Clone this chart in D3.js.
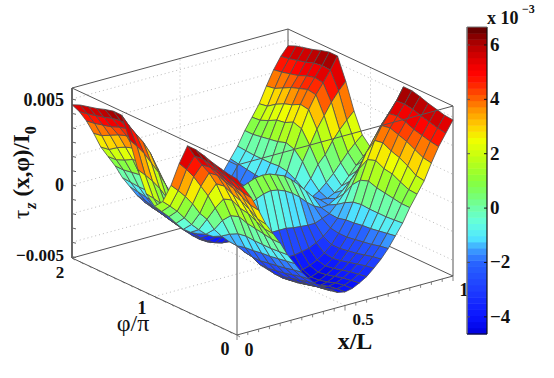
<!DOCTYPE html>
<html><head><meta charset="utf-8">
<script src="https://cdn.jsdelivr.net/npm/d3@7/dist/d3.min.js"></script>
<style>html,body{margin:0;padding:0;background:#fff}svg{display:block}text{font-family:"Liberation Serif",serif;font-weight:bold;fill:#111}</style>
</head><body><svg id="c" width="554" height="378"></svg>
<script>
// tau_z in units of 1e-3; one row per phi (phi/pi = 0, .1, ... 2), one column per x/L (0, 1/30, ... 1)
const tauRows=[
[5.8,5.0,4.2,3.2,2.1,1.3,.5,-.45,-1.2,-1.95,-2.55,-3.05,-3.5,-3.8,-4.05,-4.15,-4.05,-3.8,-3.5,-3.05,-2.55,-1.95,-1.2,-.45,.5,1.3,2.1,3.2,4.2,5.0,5.8],
[5.85,5.1,4.3,3.3,2.2,1.35,.5,-.5,-1.3,-2.05,-2.65,-3.15,-3.6,-3.9,-4.1,-4.2,-4.1,-3.9,-3.6,-3.15,-2.65,-2.05,-1.3,-.5,.5,1.35,2.2,3.3,4.3,5.1,5.85],
[6.0,5.25,4.45,3.6,2.6,1.6,.6,-.55,-1.4,-2.2,-2.8,-3.3,-3.7,-4.0,-4.2,-4.3,-4.2,-4.0,-3.7,-3.3,-2.8,-2.2,-1.4,-.55,.6,1.6,2.6,3.6,4.45,5.25,6.0],
[6.15,5.4,4.6,3.9,2.9,1.9,.7,-.55,-1.5,-2.3,-2.95,-3.45,-3.85,-4.15,-4.4,-4.5,-4.4,-4.15,-3.85,-3.45,-2.95,-2.3,-1.5,-.55,.7,1.9,2.9,3.9,4.6,5.4,6.15],
[6.35,5.6,4.85,4.1,3.1,2.0,.8,-.55,-1.55,-2.4,-3.05,-3.6,-4.0,-4.3,-4.55,-4.65,-4.55,-4.3,-4.0,-3.6,-3.05,-2.4,-1.55,-.55,.8,2.0,3.1,4.1,4.85,5.6,6.35],
[6.5,5.7,5.0,4.3,3.4,2.3,1.0,-.5,-1.65,-2.5,-3.15,-3.7,-4.1,-4.4,-4.6,-4.7,-4.6,-4.4,-4.1,-3.7,-3.15,-2.5,-1.65,-.5,1.0,2.3,3.4,4.3,5.0,5.7,6.5],
[6.5,5.65,4.9,4.2,3.3,2.1,.8,-.6,-1.7,-2.5,-3.15,-3.6,-3.95,-4.2,-4.35,-4.4,-4.35,-4.2,-3.95,-3.6,-3.15,-2.5,-1.7,-.6,.8,2.1,3.3,4.2,4.9,5.65,6.5],
[5.0,4.45,3.8,3.0,2.2,1.2,.2,-.9,-1.85,-2.4,-2.85,-3.15,-3.4,-3.5,-3.6,-3.6,-3.6,-3.5,-3.4,-3.15,-2.85,-2.4,-1.85,-.9,.2,1.2,2.2,3.0,3.8,4.45,5.0],
[3.2,2.7,2.15,1.5,.7,.15,-.7,-1.3,-1.8,-2.0,-2.2,-2.2,-2.15,-2.1,-2.0,-2.0,-2.0,-2.1,-2.15,-2.2,-2.2,-2.0,-1.8,-1.3,-.7,.15,.7,1.5,2.15,2.7,3.2],
[1.8,1.35,.85,.25,-.35,-.85,-1.3,-1.6,-1.65,-1.4,-1.0,-.5,-.1,.2,.4,.5,.4,.2,-.1,-.5,-1.0,-1.4,-1.65,-1.6,-1.3,-.85,-.35,.25,.85,1.35,1.8],
[1.2,.7,.2,-.4,-.95,-1.3,-1.55,-1.5,-1.15,-.6,-.05,.45,.85,1.05,1.25,1.3,1.25,1.05,.85,.45,-.05,-.6,-1.15,-1.5,-1.55,-1.3,-.95,-.4,.2,.7,1.2],
[1.8,1.35,.85,.25,-.35,-.85,-1.3,-1.6,-1.65,-1.4,-1.0,-.5,-.1,.2,.4,.5,.4,.2,-.1,-.5,-1.0,-1.4,-1.65,-1.6,-1.3,-.85,-.35,.25,.85,1.35,1.8],
[3.2,2.7,2.15,1.5,.7,.15,-.7,-1.3,-1.8,-2.0,-2.2,-2.2,-2.15,-2.1,-2.0,-2.0,-2.0,-2.1,-2.15,-2.2,-2.2,-2.0,-1.8,-1.3,-.7,.15,.7,1.5,2.15,2.7,3.2],
[5.0,4.45,3.8,3.0,2.2,1.2,.2,-.9,-1.85,-2.4,-2.85,-3.15,-3.4,-3.5,-3.6,-3.6,-3.6,-3.5,-3.4,-3.15,-2.85,-2.4,-1.85,-.9,.2,1.2,2.2,3.0,3.8,4.45,5.0],
[6.5,5.65,4.9,4.2,3.3,2.1,.8,-.6,-1.7,-2.5,-3.15,-3.6,-3.95,-4.2,-4.35,-4.4,-4.35,-4.2,-3.95,-3.6,-3.15,-2.5,-1.7,-.6,.8,2.1,3.3,4.2,4.9,5.65,6.5],
[6.5,5.7,5.0,4.3,3.4,2.3,1.0,-.5,-1.65,-2.5,-3.15,-3.7,-4.1,-4.4,-4.6,-4.7,-4.6,-4.4,-4.1,-3.7,-3.15,-2.5,-1.65,-.5,1.0,2.3,3.4,4.3,5.0,5.7,6.5],
[6.35,5.6,4.85,4.1,3.1,2.0,.8,-.55,-1.55,-2.4,-3.05,-3.6,-4.0,-4.3,-4.55,-4.65,-4.55,-4.3,-4.0,-3.6,-3.05,-2.4,-1.55,-.55,.8,2.0,3.1,4.1,4.85,5.6,6.35],
[6.15,5.4,4.6,3.9,2.9,1.9,.7,-.55,-1.5,-2.3,-2.95,-3.45,-3.85,-4.15,-4.4,-4.5,-4.4,-4.15,-3.85,-3.45,-2.95,-2.3,-1.5,-.55,.7,1.9,2.9,3.9,4.6,5.4,6.15],
[6.0,5.25,4.45,3.6,2.6,1.6,.6,-.55,-1.4,-2.2,-2.8,-3.3,-3.7,-4.0,-4.2,-4.3,-4.2,-4.0,-3.7,-3.3,-2.8,-2.2,-1.4,-.55,.6,1.6,2.6,3.6,4.45,5.25,6.0],
[5.85,5.1,4.3,3.3,2.2,1.35,.5,-.5,-1.3,-2.05,-2.65,-3.15,-3.6,-3.9,-4.1,-4.2,-4.1,-3.9,-3.6,-3.15,-2.65,-2.05,-1.3,-.5,.5,1.35,2.2,3.3,4.3,5.1,5.85],
[5.6,5.0,4.2,3.2,2.1,1.3,.5,-.45,-1.2,-1.95,-2.55,-3.05,-3.5,-3.8,-4.05,-4.15,-4.05,-3.8,-3.5,-3.05,-2.55,-1.95,-1.2,-.45,.5,1.3,2.1,3.2,4.2,5.0,5.6]];
const xStep=1/30, phiStep=.1;
// palette stops (value in 1e-3, colour)
const palVals=[-4.63,-4,-3,-2,-1.5,-1.1,-.5,0,.5,1,1.8,2.5,3,3.6,4,4.6,5,5.5,6,6.66];
const palCols=["#0000dc","#0a14ff","#1e3cff","#2864ff","#3ca0ff","#50e6ff","#64ffdc","#6effaa","#78ff6e","#87ff3c","#beff14","#f0ff00","#ffd200","#ff9600","#ff6400","#ff1e00","#ff0000","#dc0000","#b40000","#5a0000"];
const zTicks=[-4,-2,0,2,4,6];
const cbTicks=[-4,-2,0,2,4,6];
const zMin=-5.1,zMax=6.77,cMin=-4.63,cMax=6.66,bands=50;

const svg=d3.select("#c");
const sx=d3.scaleLinear([0,1],[0,216]), sxy=d3.scaleLinear([0,1],[0,-59]);
const spx=d3.scaleLinear([0,2],[0,-165]), spy=d3.scaleLinear([0,2],[0,-77]);
const sz=d3.scaleLinear([zMin,zMax],[0,-170]);
const P=(x,p,z)=>[237+sx(x)+spx(p),335+sxy(x)+spy(p)+sz(z)];
const ramp=d3.scaleLinear(palVals,palCols).interpolate(d3.interpolateRgb);
const bandOf=v=>{const t=Math.min(bands-1,Math.max(0,Math.floor((v-cMin)/(cMax-cMin)*bands)));return ramp(cMin+(t+.5)*(cMax-cMin)/bands);};
const line=d3.line();
const boxCol="#555";
const seg=(a,b,w=1,col=boxCol,dash=null)=>svg.append("path").attr("d",line([a,b])).attr("fill","none").attr("stroke",col).attr("stroke-width",w).attr("stroke-dasharray",dash);

// back walls & floor grid
const gc="#bbb",gd="1 3";
zTicks.forEach(z=>{seg(P(0,2,z),P(1,2,z),1,gc,gd);seg(P(1,2,z),P(1,0,z),1,gc,gd);});
seg(P(.5,2,zMin),P(.5,2,zMax),1,gc,gd);seg(P(1,1,zMin),P(1,1,zMax),1,gc,gd);
seg(P(.5,0,zMin),P(.5,2,zMin),1,gc,gd);seg(P(0,1,zMin),P(1,1,zMin),1,gc,gd);
// back box
seg(P(0,2,zMin),P(1,2,zMin));seg(P(1,2,zMin),P(1,0,zMin));seg(P(1,2,zMin),P(1,2,zMax));
seg(P(0,2,zMax),P(1,2,zMax));seg(P(1,2,zMax),P(1,0,zMax));
seg(P(0,0,zMin),P(1,0,zMin));seg(P(0,0,zMin),P(0,2,zMin));seg(P(1,0,zMin),P(1,0,zMax));
seg(P(0,0,zMin),P(0,0,zMin+(335-243)/14.33));
seg(P(0,2,zMin),P(0,2,zMax),2,"#666");

// surface: painter order far to near
const quads=[];
for(let j=tauRows.length-2;j>=0;j--)for(let i=tauRows[0].length-2;i>=0;i--){
 const c=[[i,j],[i+1,j],[i+1,j+1],[i,j+1]];
 quads.push({pts:c.map(([a,b])=>P(a*xStep,b*phiStep,tauRows[b][a])),v:d3.mean(c,([a,b])=>tauRows[b][a])});
}
svg.append("g").selectAll("path").data(quads).join("path")
 .attr("d",d=>line(d.pts)+"Z").attr("fill",d=>bandOf(d.v)).attr("stroke","#4c4c4c").attr("stroke-width",.8).attr("stroke-linejoin","round");
// front upper edges over surface
seg(P(0,2,zMax),P(0,0,zMax));seg(P(0,0,zMax),P(1,0,zMax));seg(P(0,0,zMax),P(0,0,zMax-(14/14.33)));

// axis ticks
d3.range(-5,7).forEach(z=>{const a=P(0,2,z);seg(a,[a[0]+4,a[1]+1],1,"#666");});
d3.range(0,1.0001,.05).forEach(x=>{const a=P(x,0,zMin);seg(a,[a[0],a[1]+(Math.round(x*20)%10==0?5:3)],.8,"#666");});
d3.range(0,2.0001,.1).forEach(p=>{const a=P(0,p,zMin);seg(a,[a[0]+3,a[1]+2],.8,"#666");});

const T=(x,y,s,size,anchor="middle")=>svg.append("text").attr("x",x).attr("y",y).attr("font-size",size).attr("text-anchor",anchor).text(s);
T(64,106,"0.005",18,"end");T(64,191,"0",18,"end");T(64,261,"−0.005",17,"end");
T(60,278,"2",17);T(225,355,"0",18);T(249,356,"0",18);T(142,314,"1",18);
T(133,331,"φ/π",24).style("font-weight","normal");
T(363,325,"0.5",17);T(355,349,"x/L",24);T(464,296,"1",18);

// y title
const yt=svg.append("text").attr("transform","translate(29,219) rotate(-90)").attr("font-size",23);
yt.append("tspan").text("τ").style("font-weight","normal");
yt.append("tspan").attr("dy",7).attr("dx",1).attr("font-size",16).attr("font-style","italic").text("z");
yt.append("tspan").attr("dy",-7).attr("dx",6).text("(x,φ)/I");
yt.append("tspan").attr("dy",7).attr("font-size",16).text("0");

// colour bar
const cy=d3.scaleLinear([cMin,cMax],[334,27]);
d3.range(bands).forEach(k=>{const v0=cMin+k*(cMax-cMin)/bands,v1=v0+(cMax-cMin)/bands;
 svg.append("rect").attr("x",467).attr("width",20).attr("y",cy(v1)).attr("height",cy(v0)-cy(v1)+.5).attr("fill",bandOf((v0+v1)/2));});
seg([467,27],[467,334],1.5,"#777");seg([487,27],[487,334],1.2,"#111");seg([467,27],[487,27],1,"#777");seg([467,334],[487,334],1,"#111");
cbTicks.forEach(t=>{seg([467,cy(t)],[470,cy(t)],1,"#555");seg([484,cy(t)],[487,cy(t)],1,"#111");
 T(490,cy(t)+6,t<0?"−"+(-t):""+t,19,"start");});
T(487,24,"x 10",18,"start");T(522,13,"−3",12,"start");
</script></body></html>
